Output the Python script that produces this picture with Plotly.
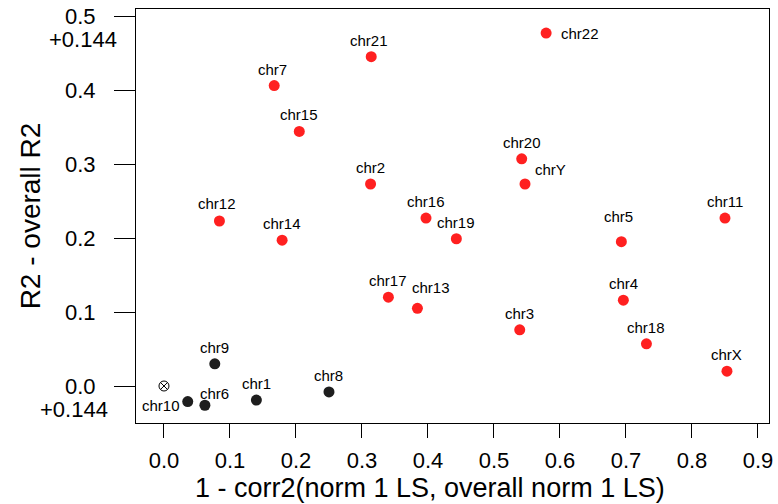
import plotly.graph_objects as go

# ---- data ----
red_names = ["chr22", "chr21", "chr7", "chr15", "chr2", "chr12", "chr14", "chr16",
             "chr19", "chr20", "chrY", "chr17", "chr13", "chr3", "chr11", "chr5",
             "chr4", "chr18", "chrX"]
red_x = [0.579, 0.314, 0.167, 0.205, 0.313, 0.084, 0.179, 0.397,
         0.443, 0.542, 0.547, 0.340, 0.384, 0.539, 0.850, 0.693,
         0.696, 0.731, 0.853]
red_y = [0.477, 0.445, 0.406, 0.344, 0.273, 0.223, 0.197, 0.227,
         0.199, 0.307, 0.273, 0.120, 0.105, 0.076, 0.227, 0.195,
         0.116, 0.057, 0.020]

black_names = ["chr9", "chr10", "chr6", "chr1", "chr8"]
black_x = [0.077, 0.036, 0.062, 0.140, 0.250]
black_y = [0.030, -0.021, -0.026, -0.019, -0.008]

ref_x = [0.0]
ref_y = [0.0]

x_ticks = [0.0, 0.1, 0.2, 0.3, 0.4, 0.5, 0.6, 0.7, 0.8, 0.9]
x_ticktext = ["0.0", "0.1", "0.2", "0.3", "0.4", "0.5", "0.6", "0.7", "0.8", "0.9"]
y_ticks = [0.0, 0.1, 0.2, 0.3, 0.4, 0.5]
y_ticktext = ["0.0", "0.1", "0.2", "0.3", "0.4", "0.5"]
offset_text = "+0.144"
offset_at = [0.5, 0.0]
x_title = "1 - corr2(norm 1 LS, overall norm 1 LS)"
y_title = "R2 - overall R2"

# ---- styling ----
FONT = "Liberation Sans, Arial, sans-serif"
RED = "rgb(255,32,32)"
BLACK = "rgb(30,30,30)"
# label offsets in pixels (dx right, dy down) relative to point; default above
default_off = (0, -16.5)
label_off = {
    "chr22": (34, 0), "chrY": (25.5, -15), "chr6": (10, -12), "chr10": (-27, 4),
    "chr13": (14, -21), "chr5": (-3, -25), "chr12": (-2, -17), "chr21": (-2, -16.5),
    "chr7": (-1.5, -16.5),
}

fig = go.Figure()
fig.add_trace(go.Scatter(x=red_x, y=red_y, mode="markers",
                         marker=dict(color=RED, size=11, line=dict(width=0)),
                         showlegend=False, hoverinfo="skip"))
fig.add_trace(go.Scatter(x=black_x, y=black_y, mode="markers",
                         marker=dict(color=BLACK, size=11, line=dict(width=0)),
                         showlegend=False, hoverinfo="skip"))
fig.add_trace(go.Scatter(x=ref_x, y=ref_y, mode="markers",
                         marker=dict(symbol="circle-x-open", color="black", size=10,
                                     line=dict(width=1, color="black")),
                         showlegend=False, hoverinfo="skip"))

annotations = []
for names, xs, ys in ((red_names, red_x, red_y), (black_names, black_x, black_y)):
    for n, xv, yv in zip(names, xs, ys):
        dx, dy = label_off.get(n, default_off)
        annotations.append(dict(x=xv, y=yv, xref="x", yref="y", text=n, showarrow=False,
                                xanchor="center", yanchor="middle", xshift=dx, yshift=-dy,
                                font=dict(family=FONT, size=15, color="black")))

offset_shifts = [(-17, -23), (-26, -23)]
for yv, (xs_, ys_) in zip(offset_at, offset_shifts):
    annotations.append(dict(x=0, y=yv, xref="paper", yref="y", text=offset_text,
                            showarrow=False, xanchor="right", yanchor="middle",
                            xshift=xs_, yshift=ys_,
                            font=dict(family=FONT, size=22, color="black")))

# x axis title (placed as text below the axis, slightly left of centre as in the original)
annotations.append(dict(x=0.4645, y=-0.158, xref="paper", yref="paper", text=x_title,
                        showarrow=False, xanchor="center", yanchor="middle",
                        font=dict(family=FONT, size=27, color="black")))

fig.update_layout(
    width=778, height=504,
    margin=dict(l=136, r=9, t=9, b=81, autoexpand=False),
    paper_bgcolor="white", plot_bgcolor="white",
    annotations=annotations,
    font=dict(family=FONT, color="black"),
)
fig.update_xaxes(
    range=[-0.0424, 0.9167], tickmode="array", tickvals=x_ticks, ticktext=x_ticktext,
    ticks="outside", ticklen=14, tickwidth=1, tickcolor="black",
    showline=True, mirror=True, linecolor="black", linewidth=1,
    showgrid=False, zeroline=False, ticklabelstandoff=4,
    tickfont=dict(family=FONT, size=22, color="black"),
)
fig.update_yaxes(
    range=[-0.05, 0.5095], tickmode="array", tickvals=y_ticks, ticktext=y_ticktext,
    ticks="outside", ticklen=21, tickwidth=1, tickcolor="black",
    showline=True, mirror=True, linecolor="black", linewidth=1,
    showgrid=False, zeroline=False, ticklabelstandoff=14,
    tickfont=dict(family=FONT, size=22, color="black"),
    title=dict(text=y_title, font=dict(family=FONT, size=28, color="black"),
               standoff=16),
)

fig.write_html("out.html")
